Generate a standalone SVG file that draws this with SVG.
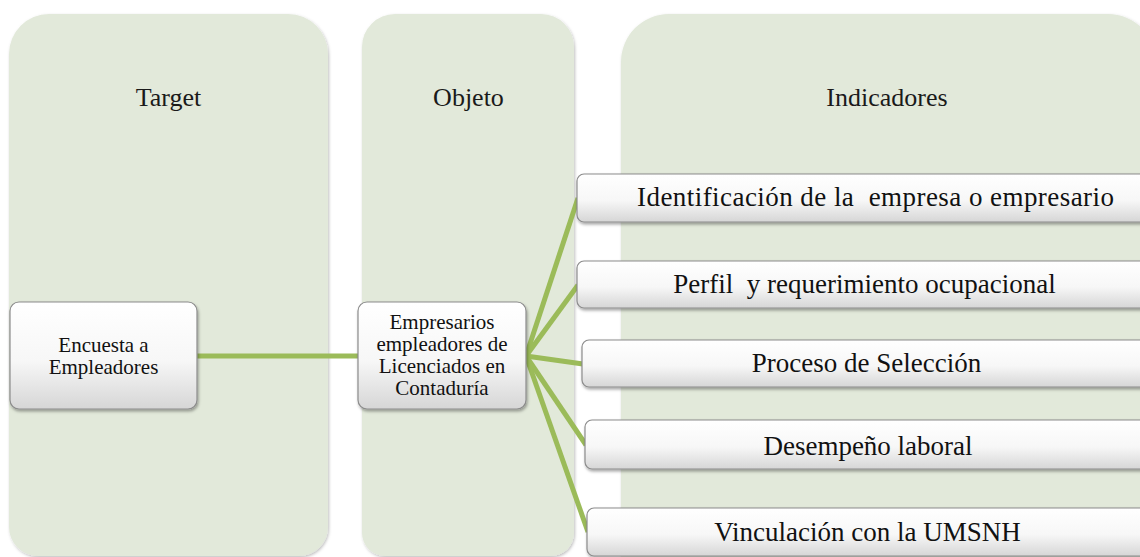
<svg xmlns="http://www.w3.org/2000/svg" width="1140" height="557" viewBox="0 0 1140 557">
<defs>
<linearGradient id="boxg" x1="0" y1="0" x2="0" y2="1">
<stop offset="0" stop-color="#ffffff"/>
<stop offset="0.55" stop-color="#f7f7f7"/>
<stop offset="1" stop-color="#d6d6d6"/>
</linearGradient>
<filter id="sh" x="-10%" y="-10%" width="130%" height="140%">
<feDropShadow dx="1" dy="2" stdDeviation="1.6" flood-color="#000" flood-opacity="0.35"/>
</filter>
<filter id="csh" x="-5%" y="-5%" width="110%" height="110%">
<feDropShadow dx="1" dy="1.5" stdDeviation="1.5" flood-color="#000" flood-opacity="0.25"/>
</filter>
</defs>
<style>
.col{fill:#e2e9da;filter:url(#csh)}
.box{fill:url(#boxg);stroke:#8c8c8c;stroke-width:1.2;filter:url(#sh)}
.hdr{font-family:"Liberation Serif","Times New Roman",serif;font-size:26px;fill:#1a1a1a;text-anchor:middle}
.t20{font-family:"Liberation Serif","Times New Roman",serif;font-size:21px;fill:#111;text-anchor:middle}
.t24{font-family:"Liberation Serif","Times New Roman",serif;font-size:27px;fill:#111;text-anchor:middle;white-space:pre}
.con{stroke:#9bbb59;stroke-width:5;fill:none;stroke-linecap:butt}
</style>
<rect width="1140" height="557" fill="#ffffff"/>

<g id="col-target">
<path class="col" d="M9,54 A40,40 0 0 1 49,14 L288,14 A40,40 0 0 1 328,54 L328,527 A29,29 0 0 1 299,556 L38,556 A29,29 0 0 1 9,527 Z"/>
<text class="hdr" x="168.5" y="106">Target</text>
</g>
<g id="col-objeto">
<path class="col" d="M362,47 A33,33 0 0 1 395,14 L541,14 A33,33 0 0 1 574,47 L574,533 A23,23 0 0 1 551,556 L385,556 A23,23 0 0 1 362,533 Z"/>
<text class="hdr" x="468.5" y="106">Objeto</text>
</g>
<g id="col-indicadores">
<path class="col" d="M621,62 A48,48 0 0 1 669,14 L1108,14 A48,48 0 0 1 1156,62 L1156,600 L621,600 Z"/>
<text class="hdr" x="887" y="106">Indicadores</text>
</g>

<g id="connectors">
<line class="con" x1="197" y1="356" x2="358" y2="356"/>
<line class="con" x1="526" y1="356" x2="578" y2="198"/>
<line class="con" x1="526" y1="356" x2="578" y2="285"/>
<line class="con" x1="526" y1="356" x2="583" y2="364"/>
<line class="con" x1="526" y1="356" x2="586" y2="445"/>
<line class="con" x1="526" y1="356" x2="588" y2="532"/>
</g>

<g id="node-encuesta">
<rect class="box" x="10" y="302" width="187" height="107" rx="9"/>
<text class="t20" x="103.5" y="352">Encuesta a</text>
<text class="t20" x="103.5" y="374">Empleadores</text>
</g>
<g id="node-empresarios">
<rect class="box" x="358" y="302" width="168" height="107" rx="9"/>
<text class="t20" x="442" y="329">Empresarios</text>
<text class="t20" x="442" y="351">empleadores de</text>
<text class="t20" x="442" y="373">Licenciados en</text>
<text class="t20" x="442" y="395">Contaduría</text>
</g>

<g id="node-identificacion">
<rect class="box" x="577" y="174" width="590" height="48" rx="7"/>
<text class="t24" x="875.5" y="206" xml:space="preserve" textLength="477" lengthAdjust="spacing">Identificación de la  empresa o empresario</text>
</g>
<g id="node-perfil">
<rect class="box" x="577" y="261" width="590" height="47" rx="7"/>
<text class="t24" x="864.5" y="293" xml:space="preserve">Perfil  y requerimiento ocupacional</text>
</g>
<g id="node-proceso">
<rect class="box" x="582" y="340" width="590" height="47" rx="7"/>
<text class="t24" x="866.5" y="372">Proceso de Selección</text>
</g>
<g id="node-desempeno">
<rect class="box" x="585" y="420" width="590" height="49" rx="7"/>
<text class="t24" x="868" y="455">Desempeño laboral</text>
</g>
<g id="node-vinculacion">
<rect class="box" x="587" y="508" width="590" height="48" rx="7"/>
<text class="t24" x="867.5" y="541">Vinculación con la UMSNH</text>
</g>
</svg>
